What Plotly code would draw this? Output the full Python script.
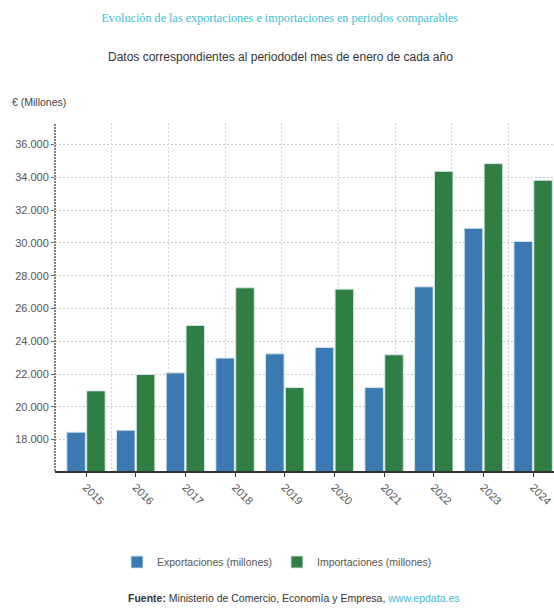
import plotly.graph_objects as go

years = ["2015", "2016", "2017", "2018", "2019", "2020", "2021", "2022", "2023", "2024"]
exportaciones = [18450, 18570, 22070, 22970, 23230, 23620, 21170, 27320, 30890, 30090]
importaciones = [20970, 21970, 24960, 27260, 21170, 27180, 23170, 34370, 34840, 33820]
y_ticks = [18000, 20000, 22000, 24000, 26000, 28000, 30000, 32000, 34000, 36000]
y_tick_labels = ["18.000", "20.000", "22.000", "24.000", "26.000", "28.000", "30.000", "32.000", "34.000", "36.000"]

SANS = "Liberation Sans Narrow, Arial Narrow, Liberation Sans, Arial, sans-serif"
BLUE = "#3a79b1"
GREEN = "#2f7e42"

W, H = 554, 608
L, T, B = 55, 123, 471

fig = go.Figure()
fig.add_trace(go.Bar(
    x=years, y=exportaciones, name="Exportaciones (millones)",
    marker=dict(color=BLUE, line=dict(color="rgba(215,232,236,0.9)", width=1)),
))
fig.add_trace(go.Bar(
    x=years, y=importaciones, name="Importaciones (millones)",
    marker=dict(color=GREEN, line=dict(color="rgba(215,232,236,0.9)", width=1)),
))
# empty trace so the vertical-grid axis is drawn
fig.add_trace(go.Scatter(x=[], y=[], xaxis="x2", showlegend=False, hoverinfo="skip"))

fig.update_layout(
    width=W, height=H,
    margin=dict(l=L, r=0, t=T, b=H - B, autoexpand=False),
    paper_bgcolor="white", plot_bgcolor="white",
    barmode="group", bargap=0.2, bargroupgap=0.07,
    font=dict(family=SANS, size=11, color="#555"),
    title=dict(
        text="Evolución de las exportaciones e importaciones en periodos comparables",
        font=dict(family="Liberation Serif, Times New Roman, serif", size=12.2, color="#3dbdd3"),
        x=0.505, xanchor="center", xref="container",
        y=1 - 18 / H, yanchor="middle", yref="container",
    ),
    xaxis=dict(
        type="category", range=[-0.624, 9.42],
        showgrid=False, showline=True, linecolor="#333", linewidth=1.5,
        ticks="outside", ticklen=4, tickcolor="#333",
        tickangle=45, tickfont=dict(family=SANS, size=11, color="#555"),
        automargin=False,
    ),
    xaxis2=dict(
        overlaying="x", range=[0, 8.80], dtick=1, tick0=0,
        showgrid=True, gridcolor="#d4d4d4", griddash="2px,2px", gridwidth=1,
        showticklabels=False, showline=False, zeroline=False, ticks="",
        automargin=False,
    ),
    yaxis=dict(
        range=[16080, 37320],
        tickvals=y_ticks, ticktext=y_tick_labels,
        showgrid=True, gridcolor="#c8c8c8", griddash="2px,2px", gridwidth=1,
        showline=False, zeroline=False,
        ticks="outside", ticklen=3, tickcolor="#666",
        tickfont=dict(family=SANS, size=11, color="#555"),
        automargin=False,
    ),
    legend=dict(
        orientation="h", xref="container", yref="container",
        x=0.5, xanchor="center", y=1 - 562 / H, yanchor="middle",
        font=dict(family=SANS, size=10.5, color="#555"),
        itemwidth=30, traceorder="normal",
    ),
    showlegend=True,
)

# dotted y-axis line
fig.add_shape(type="line", xref="paper", yref="paper", x0=0, x1=0, y0=0, y1=1,
              line=dict(color="#555", width=1.5, dash="2px,1px"))

PW, PH = W - L, B - T
fig.add_annotation(
    text="Datos correspondientes al periododel mes de enero de cada año",
    xref="paper", yref="paper", x=(280 - L) / PW, y=1 + (T - 57) / PH,
    xanchor="center", yanchor="middle", showarrow=False,
    font=dict(family=SANS, size=12, color="#333"),
)
fig.add_annotation(
    text="€ (Millones)",
    xref="paper", yref="paper", x=(10 - L) / PW, y=1 + (T - 102) / PH,
    xanchor="left", yanchor="middle", showarrow=False,
    font=dict(family=SANS, size=10.5, color="#444"),
)
fig.add_annotation(
    text="<b>Fuente:</b> Ministerio de Comercio, Economía y Empresa, <span style='color:#3dbdd3'>www.epdata.es</span>",
    xref="paper", yref="paper", x=(293 - L) / PW, y=(B - 598) / PH,
    xanchor="center", yanchor="middle", showarrow=False,
    font=dict(family=SANS, size=10.5, color="#333"),
)

fig.write_html("out.html", config={"displayModeBar": False},
               post_script="document.body.style.margin='0';")
